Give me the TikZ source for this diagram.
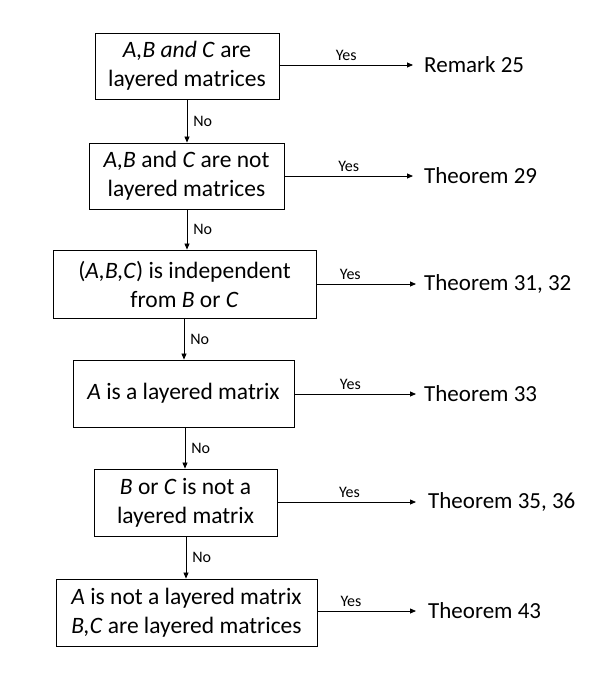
\documentclass[tikz,border=0pt]{standalone}
\usepackage{fontspec}
\setmainfont{Carlito}
\usetikzlibrary{arrows.meta,calc}
\begin{document}
\begin{tikzpicture}[x=1pt,y=-1pt,
  box/.style={draw,line width=0.9pt,inner sep=0pt,align=center,font=\fontsize{23.5}{29}\selectfont},
  tgt/.style={anchor=west,inner sep=0pt,font=\fontsize{23}{27}\selectfont},
  lab/.style={inner sep=0pt,font=\fontsize{16}{18}\selectfont},
  arr/.style={line width=0.8pt,-{Triangle[length=6pt,width=5pt]}}]
\useasboundingbox (0,0) rectangle (613,677);
\node[box,minimum width=184pt,minimum height=66pt] (b1) at (187,66) {\textit{A,B and C} are\\layered matrices};
\node[box,minimum width=195pt,minimum height=66pt] (b2) at (186.5,176) {\textit{A,B} and \textit{C} are not\\layered matrices};
\node[box,minimum width=263pt,minimum height=68pt] (b3) at (184.5,284) {(\textit{A,B,C}) is independent\\from \textit{B} or \textit{C}};
\node[box,minimum width=221pt,minimum height=67pt] (b4) at (183.5,393.5) {\textit{A} is a layered matrix};
\node[box,minimum width=183pt,minimum height=67pt] (b5) at (185.5,502.5) {\textit{B} or \textit{C} is not a\\layered matrix};
\node[box,minimum width=261pt,minimum height=67pt] (b6) at (186.5,612.5) {\textit{A} is not a layered matrix\\\textit{B,C} are layered matrices};
\coordinate (e1) at (413,65);
\coordinate (e2) at (413,176);
\coordinate (e3) at (416,284);
\coordinate (e4) at (416,394);
\coordinate (e5) at (416,502);
\coordinate (e6) at (416,611);
\node[tgt] (t1) at (424,65) {Remark 25};
\node[tgt] (t2) at (424,176) {Theorem 29};
\node[tgt] (t3) at (424,284) {Theorem 31, 32};
\node[tgt] (t4) at (424,394) {Theorem 33};
\node[tgt] (t5) at (428,502) {Theorem 35, 36};
\node[tgt] (t6) at (428,611) {Theorem 43};
\draw[arr] (b1.east |- e1) -- (e1) node[lab,pos=0.5,above=4pt] {Yes};
\draw[arr] (b2.east |- e2) -- (e2) node[lab,pos=0.5,above=4pt] {Yes};
\draw[arr] (b3.east |- e3) -- (e3) node[lab,pos=0.34,above=4pt] {Yes};
\draw[arr] (b4.east |- e4) -- (e4) node[lab,pos=0.46,above=4pt] {Yes};
\draw[arr] (b5.east |- e5) -- (e5) node[lab,pos=0.52,above=4pt] {Yes};
\draw[arr] (b6.east |- e6) -- (e6) node[lab,pos=0.34,above=4pt] {Yes};
\coordinate (v1) at (187,0);
\coordinate (v2) at (187,0);
\coordinate (v3) at (184,0);
\coordinate (v4) at (185,0);
\coordinate (v5) at (186,0);
\draw[arr] (v1 |- b1.south) -- (v1 |- b2.north) node[lab,midway,right=6pt] {No};
\draw[arr] (v2 |- b2.south) -- (v2 |- b3.north) node[lab,midway,right=6pt] {No};
\draw[arr] (v3 |- b3.south) -- (v3 |- b4.north) node[lab,midway,right=6pt] {No};
\draw[arr] (v4 |- b4.south) -- (v4 |- b5.north) node[lab,midway,right=6pt] {No};
\draw[arr] (v5 |- b5.south) -- (v5 |- b6.north) node[lab,midway,right=6pt] {No};
\end{tikzpicture}
\end{document}
